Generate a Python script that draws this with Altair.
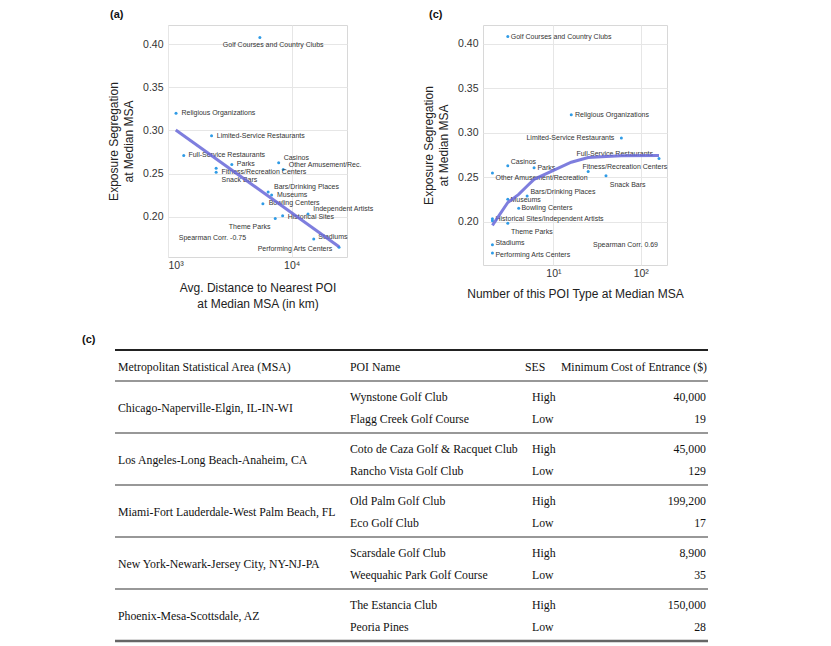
import altair as alt
import pandas as pd

# ---------------- data ----------------
categories = ["Golf Courses and Country Clubs", "Religious Organizations", "Limited-Service Restaurants",
              "Full-Service Restaurants", "Parks", "Fitness/Recreation Centers", "Snack Bars", "Casinos",
              "Other Amusement/Recreation", "Bars/Drinking Places", "Museums", "Bowling Centers",
              "Historical Sites", "Independent Artists", "Theme Parks", "Stadiums", "Performing Arts Centers"]
segregation = [0.408, 0.320, 0.294, 0.271, 0.2605, 0.2563, 0.2515, 0.2626, 0.2546, 0.2287, 0.225,
               0.215, 0.201, 0.2032, 0.198, 0.174, 0.1646]
distance_km = [5530, 1161, 2250, 1340, 3280, 2450, 2450, 7850, 8550, 6450, 6880, 5850, 8450, 13550,
               7360, 15070, 24150]
poi_count = [3, 16, 60, 162, 6, 25, 40, 3, 2, 5, 3, 4, 2, 2, 3, 2, 2]

# label anchors, panel (a)
labA_text = ["Golf Courses and Country Clubs", "Religious Organizations", "Limited-Service Restaurants",
             "Full-Service Restaurants", "Casinos", "Parks", "Other Amusement/Rec.", "Fitness/Recreation Centers",
             "Snack Bars", "Bars/Drinking Places", "Museums", "Bowling Centers", "Independent Artists",
             "Historical Sites", "Theme Parks", "Stadiums", "Performing Arts Centers"]
labA_x = [2775, 1284, 2481, 1463, 8614, 3603, 9456, 2709, 2709, 7189, 7602, 6511, 14960, 9282, 3104, 16430, 5304]
labA_y = [0.3988, 0.3203, 0.2940, 0.2716, 0.2685, 0.2608, 0.2600, 0.2519, 0.2422, 0.2341, 0.2248, 0.2155,
          0.2086, 0.1997, 0.1884, 0.1764, 0.1629]
spearA_text, spearA_x, spearA_y = ["Spearman Corr. -0.75"], [1221], [0.1753]
fitA_x = [1155, 24150]
fitA_y = [0.3006, 0.1652]

# label anchors, panel (c)
labC_text = ["Golf Courses and Country Clubs", "Religious Organizations", "Limited-Service Restaurants",
             "Full-Service Restaurants", "Fitness/Recreation Centers", "Casinos", "Parks",
             "Other Amusement/Recreation", "Snack Bars", "Bars/Drinking Places", "Museums", "Bowling Centers",
             "Historical Sites/Independent Artists", "Theme Parks", "Stadiums", "Performing Arts Centers"]
labC_x = [3.243, 17.68, 4.906, 18.34, 21.49, 3.243, 6.557, 2.166, 44.15, 5.451, 3.217, 4.298, 2.166,
          3.268, 2.166, 2.166]
labC_y = [0.4079, 0.3194, 0.2936, 0.2764, 0.2613, 0.2674, 0.2602, 0.2494, 0.2416, 0.2337, 0.2243, 0.2149,
          0.2034, 0.1883, 0.1764, 0.1629]
spearC_text, spearC_x, spearC_y = ["Spearman Corr. 0.69"], [28.42], [0.1737]
fitC_x = [2, 3, 4, 5, 6, 16, 25, 40, 60, 162]
fitC_y = [0.1957, 0.2215, 0.2305, 0.2400, 0.2475, 0.2667, 0.2719, 0.2732, 0.2740, 0.2742]

# table
msa_names = ["Chicago-Naperville-Elgin, IL-IN-WI", "Los Angeles-Long Beach-Anaheim, CA",
             "Miami-Fort Lauderdale-West Palm Beach, FL", "New York-Newark-Jersey City, NY-NJ-PA",
             "Phoenix-Mesa-Scottsdale, AZ"]
poi_high = ["Wynstone Golf Club", "Coto de Caza Golf & Racquet Club", "Old Palm Golf Club",
            "Scarsdale Golf Club", "The Estancia Club"]
poi_low = ["Flagg Creek Golf Course", "Rancho Vista Golf Club", "Eco Golf Club",
           "Weequahic Park Golf Course", "Peoria Pines"]
cost_high = [40000, 45000, 199200, 8900, 150000]
cost_low = [19, 129, 17, 35, 28]
header = ["Metropolitan Statistical Area (MSA)", "POI Name", "SES", "Minimum Cost of Entrance ($)"]

# ---------------- styles ----------------
SANS = "Liberation Sans"
SERIF = "Liberation Serif"
POINT = "#2f9be6"
LINE = "#6767d8"
TXT = "#333333"

pts = pd.DataFrame({"cat": categories, "y": segregation, "dist": distance_km, "cnt": poi_count})
ptsA = pts.rename(columns={"dist": "x"})
ptsC = pts.rename(columns={"cnt": "x"})
labA = pd.DataFrame({"t": labA_text, "x": labA_x, "y": labA_y})
labC = pd.DataFrame({"t": labC_text, "x": labC_x, "y": labC_y})
spA = pd.DataFrame({"t": spearA_text, "x": spearA_x, "y": spearA_y})
spC = pd.DataFrame({"t": spearC_text, "x": spearC_x, "y": spearC_y})
fitA = pd.DataFrame({"x": fitA_x, "y": fitA_y})
fitC = pd.DataFrame({"x": fitC_x, "y": fitC_y})

ytitle = ["Exposure Segregation", "at Median MSA"]


def yaxis():
    return alt.Axis(values=[0.20, 0.25, 0.30, 0.35, 0.40], format=".2f", title=ytitle,
                    titleFontSize=12, labelFontSize=10.5, labelPadding=5, titlePadding=7,
                    titleLineHeight=15)


def panel(points, labels, spear, fit, xdomain, ydomain, xvals, lblexpr, xtitle, w, h, ptitle, title_dx,
          xtitle_pad):
    xs = alt.Scale(type="log", domain=xdomain, nice=False)
    ys = alt.Scale(domain=ydomain, nice=False, zero=False)
    X = alt.X("x:Q", scale=xs, axis=alt.Axis(values=xvals, labelExpr=lblexpr, title=xtitle,
                                              titleFontSize=12, labelFontSize=10.5, labelPadding=3,
                                              titlePadding=xtitle_pad, titleLineHeight=15.5))
    Y = alt.Y("y:Q", scale=ys, axis=yaxis())
    p = alt.Chart(points).mark_circle(size=9, color=POINT, opacity=1).encode(x=X, y=Y)
    t = alt.Chart(labels).mark_text(align="left", baseline="middle", fontSize=7, font=SANS,
                                     color=TXT).encode(x=X, y=Y, text="t:N")
    s = alt.Chart(spear).mark_text(align="left", baseline="middle", fontSize=7, font=SANS,
                                    color=TXT).encode(x=X, y=Y, text="t:N")
    ln = alt.Chart(fit).mark_line(color=LINE, strokeWidth=3, opacity=0.85).encode(x=X, y=Y)
    return alt.layer(p, t, s, ln).properties(
        width=w, height=h,
        title=alt.TitleParams(ptitle, anchor="start", frame="group", dx=title_dx, fontSize=11,
                              fontWeight="bold", font=SANS, color="#111", offset=5))


A = panel(ptsA, labA, spA, fitA, [1000, 28000], [0.1532, 0.4224], [1000, 10000],
          "datum.value < 5000 ? '10³' : '10⁴'",
          ["Avg. Distance to Nearest POI", "at Median MSA (in km)"], 179, 232, "(a)", -58, 12)
C = panel(ptsC, labC, spC, fitC, [1.56, 200], [0.1512, 0.4209], [10, 100],
          "datum.value < 50 ? '10¹' : '10²'",
          "Number of this POI Type at Median MSA", 184, 240, "(c)", -54, 10)

# ---------------- table ----------------
rows = []
for g in range(len(msa_names)):
    rows.append({"g": g, "s": 0, "poi": poi_high[g], "ses": "High", "cost": cost_high[g]})
    rows.append({"g": g, "s": 1, "poi": poi_low[g], "ses": "Low", "cost": cost_low[g]})
tbl = pd.DataFrame(rows)
msa_df = pd.DataFrame({"g": list(range(len(msa_names))), "msa": msa_names})
sep_df = pd.DataFrame({"g": list(range(len(msa_names) - 1))})
one = pd.DataFrame({"k": [0]})

# table plot origin sits under panel (a)'s plot origin; columns offset from it
TL, TR, TH = -53, 540, 291
ysc = alt.Scale(domain=[0, TH], range=[0, TH], nice=False, zero=False)
txt = dict(baseline="middle", font=SERIF, fontSize=11.8, color="#111111")

row_y = alt.Y("yy:Q", scale=ysc, axis=None)
ROWCALC = "47 + 52*datum.g + 22*datum.s"
poi_l = alt.Chart(tbl).transform_calculate(yy=ROWCALC).mark_text(
    align="left", **txt).encode(x=alt.value(182), y=row_y, text="poi:N")
ses_l = alt.Chart(tbl).transform_calculate(yy=ROWCALC).mark_text(
    align="left", **txt).encode(x=alt.value(364), y=row_y, text="ses:N")
cost_l = alt.Chart(tbl).transform_calculate(yy=ROWCALC).mark_text(
    align="right", **txt).encode(x=alt.value(538), y=row_y, text=alt.Text("cost:Q", format=","))
msa_l = alt.Chart(msa_df).transform_calculate(yy="58 + 52*datum.g").mark_text(
    align="left", **txt).encode(x=alt.value(-50), y=row_y, text="msa:N")
head_layers = []
for txtv, xv, al in zip(header, [-50, 182, 357, 539], ["left", "left", "left", "right"]):
    head_layers.append(alt.Chart(one).mark_text(align=al, **txt).encode(
        x=alt.value(xv), y=alt.value(17), text=alt.value(txtv)))
top_rule = alt.Chart(one).mark_rule(color="#222222", strokeWidth=2).encode(
    x=alt.value(TL), x2=alt.value(TR), y=alt.value(0))
head_rule = alt.Chart(one).mark_rule(color="#333333", strokeWidth=1.2).encode(
    x=alt.value(TL), x2=alt.value(TR), y=alt.value(31))
sep_rule = alt.Chart(sep_df).transform_calculate(yy="83 + 52*datum.g").mark_rule(
    color="#333333", strokeWidth=1.1).encode(x=alt.value(TL), x2=alt.value(TR), y=row_y)
bot_rule = alt.Chart(one).mark_rule(color="#666666", strokeWidth=2.5).encode(
    x=alt.value(TL), x2=alt.value(TR), y=alt.value(TH))

T = alt.layer(top_rule, head_rule, sep_rule, bot_rule, *head_layers, msa_l, poi_l, ses_l, cost_l).properties(
    width=TR, height=TH, view=alt.ViewBackground(strokeOpacity=0),
    title=alt.TitleParams("(c)", anchor="start", frame="group", dx=-86, fontSize=11, fontWeight="bold",
                          font=SANS, color="#111", offset=4))

row1 = alt.hconcat(A, C, spacing=136, bounds="flush")
chart = alt.vconcat(row1, T, spacing=24).properties(
    padding={"left": 74, "top": 0, "right": 5, "bottom": 5}
).configure_view(stroke="#d8d8d8", strokeWidth=1).configure_axis(
    domain=False, ticks=False, grid=True, gridColor="#e6e6e6", gridWidth=1,
    labelFont=SANS, titleFont=SANS, labelColor="#333333", titleColor="#222222", titleFontWeight="normal"
).configure_title(font=SANS)

chart.save("out.html", embed_options={"renderer": "svg", "actions": False})
